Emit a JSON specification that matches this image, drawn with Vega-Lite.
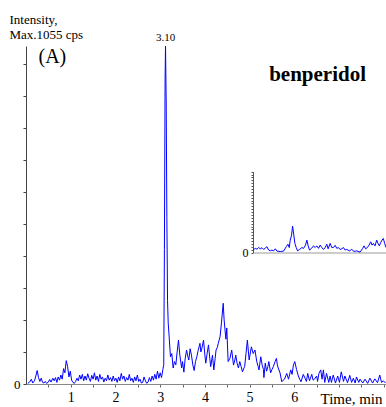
{
  "$schema": "https://vega.github.io/schema/vega-lite/v6.json",
  "width": 360,
  "height": 338,
  "autosize": {"type": "none"},
  "padding": {"left": 26, "top": 46, "right": 0, "bottom": 23},
  "background": "white",
  "config": {
    "view": {"stroke": null},
    "font": "Liberation Serif",
    "axis": {"labelFont": "Liberation Serif", "titleFont": "Liberation Serif"},
    "text": {"font": "Liberation Serif"}
  },
  "datasets": {
    "main": [
      {"t":0.04,"v":2},{"t":0.08,"v":6},{"t":0.12,"v":15},{"t":0.15,"v":3},{"t":0.19,"v":10},{"t":0.22,"v":25},{"t":0.25,"v":42},{"t":0.28,"v":20},{"t":0.31,"v":8},{"t":0.34,"v":18},{"t":0.37,"v":5},{"t":0.40,"v":3},{"t":0.43,"v":8},{"t":0.46,"v":2},{"t":0.50,"v":6},{"t":0.53,"v":14},{"t":0.56,"v":6},{"t":0.60,"v":18},{"t":0.63,"v":10},{"t":0.66,"v":20},{"t":0.69,"v":5},{"t":0.72,"v":22},{"t":0.75,"v":12},{"t":0.78,"v":28},{"t":0.81,"v":15},{"t":0.84,"v":48},{"t":0.87,"v":35},{"t":0.90,"v":73},{"t":0.93,"v":55},{"t":0.96,"v":22},{"t":0.99,"v":40},{"t":1.02,"v":12},{"t":1.05,"v":5},{"t":1.08,"v":2},{"t":1.11,"v":8},{"t":1.14,"v":18},{"t":1.17,"v":10},{"t":1.20,"v":28},{"t":1.23,"v":15},{"t":1.26,"v":30},{"t":1.29,"v":10},{"t":1.32,"v":25},{"t":1.35,"v":12},{"t":1.38,"v":32},{"t":1.41,"v":18},{"t":1.44,"v":8},{"t":1.47,"v":27},{"t":1.50,"v":15},{"t":1.53,"v":35},{"t":1.56,"v":12},{"t":1.59,"v":25},{"t":1.62,"v":8},{"t":1.65,"v":30},{"t":1.68,"v":15},{"t":1.71,"v":22},{"t":1.74,"v":6},{"t":1.77,"v":18},{"t":1.80,"v":10},{"t":1.83,"v":28},{"t":1.86,"v":12},{"t":1.89,"v":20},{"t":1.92,"v":8},{"t":1.95,"v":25},{"t":1.98,"v":10},{"t":2.01,"v":18},{"t":2.04,"v":5},{"t":2.07,"v":22},{"t":2.10,"v":10},{"t":2.13,"v":33},{"t":2.16,"v":15},{"t":2.19,"v":25},{"t":2.22,"v":8},{"t":2.25,"v":20},{"t":2.28,"v":12},{"t":2.31,"v":30},{"t":2.34,"v":10},{"t":2.37,"v":18},{"t":2.40,"v":5},{"t":2.43,"v":22},{"t":2.46,"v":10},{"t":2.49,"v":28},{"t":2.52,"v":8},{"t":2.55,"v":15},{"t":2.58,"v":3},{"t":2.61,"v":5},{"t":2.64,"v":22},{"t":2.67,"v":10},{"t":2.70,"v":2},{"t":2.73,"v":6},{"t":2.76,"v":20},{"t":2.79,"v":8},{"t":2.82,"v":25},{"t":2.85,"v":12},{"t":2.88,"v":30},{"t":2.91,"v":15},{"t":2.94,"v":40},{"t":2.97,"v":18},{"t":3.00,"v":35},{"t":3.03,"v":20},{"t":3.06,"v":45},{"t":3.08,"v":60},{"t":3.095,"v":420},{"t":3.11,"v":950},{"t":3.12,"v":1055},{"t":3.135,"v":880},{"t":3.15,"v":520},{"t":3.165,"v":260},{"t":3.18,"v":190},{"t":3.20,"v":150},{"t":3.23,"v":85},{"t":3.26,"v":95},{"t":3.29,"v":50},{"t":3.32,"v":70},{"t":3.35,"v":60},{"t":3.38,"v":100},{"t":3.41,"v":137},{"t":3.44,"v":90},{"t":3.48,"v":50},{"t":3.50,"v":70},{"t":3.53,"v":37},{"t":3.56,"v":80},{"t":3.59,"v":106},{"t":3.62,"v":85},{"t":3.64,"v":75},{"t":3.67,"v":110},{"t":3.70,"v":90},{"t":3.73,"v":60},{"t":3.76,"v":42},{"t":3.79,"v":70},{"t":3.82,"v":85},{"t":3.85,"v":105},{"t":3.89,"v":127},{"t":3.91,"v":100},{"t":3.93,"v":110},{"t":3.97,"v":137},{"t":4.00,"v":90},{"t":4.02,"v":65},{"t":4.05,"v":95},{"t":4.08,"v":122},{"t":4.11,"v":80},{"t":4.13,"v":54},{"t":4.17,"v":90},{"t":4.20,"v":44},{"t":4.23,"v":80},{"t":4.25,"v":106},{"t":4.28,"v":115},{"t":4.30,"v":127},{"t":4.34,"v":148},{"t":4.37,"v":190},{"t":4.41,"v":252},{"t":4.43,"v":200},{"t":4.45,"v":169},{"t":4.47,"v":140},{"t":4.49,"v":175},{"t":4.52,"v":70},{"t":4.56,"v":80},{"t":4.60,"v":106},{"t":4.64,"v":59},{"t":4.67,"v":75},{"t":4.69,"v":90},{"t":4.72,"v":65},{"t":4.75,"v":50},{"t":4.78,"v":70},{"t":4.81,"v":55},{"t":4.84,"v":38},{"t":4.89,"v":55},{"t":4.92,"v":95},{"t":4.95,"v":137},{"t":4.99,"v":75},{"t":5.02,"v":100},{"t":5.04,"v":116},{"t":5.08,"v":95},{"t":5.12,"v":106},{"t":5.16,"v":70},{"t":5.19,"v":55},{"t":5.21,"v":44},{"t":5.25,"v":85},{"t":5.28,"v":60},{"t":5.31,"v":45},{"t":5.32,"v":20},{"t":5.35,"v":65},{"t":5.38,"v":40},{"t":5.41,"v":55},{"t":5.43,"v":70},{"t":5.47,"v":35},{"t":5.50,"v":45},{"t":5.53,"v":54},{"t":5.57,"v":70},{"t":5.60,"v":80},{"t":5.62,"v":60},{"t":5.64,"v":50},{"t":5.68,"v":35},{"t":5.72,"v":7},{"t":5.75,"v":12},{"t":5.78,"v":15},{"t":5.83,"v":33},{"t":5.87,"v":15},{"t":5.92,"v":44},{"t":5.95,"v":30},{"t":5.98,"v":59},{"t":6.01,"v":70},{"t":6.05,"v":45},{"t":6.09,"v":25},{"t":6.12,"v":15},{"t":6.15,"v":7},{"t":6.20,"v":30},{"t":6.24,"v":18},{"t":6.27,"v":8},{"t":6.30,"v":33},{"t":6.34,"v":10},{"t":6.39,"v":30},{"t":6.42,"v":12},{"t":6.45,"v":15},{"t":6.50,"v":25},{"t":6.52,"v":8},{"t":6.55,"v":33},{"t":6.59,"v":44},{"t":6.62,"v":15},{"t":6.65,"v":44},{"t":6.68,"v":5},{"t":6.72,"v":33},{"t":6.77,"v":5},{"t":6.80,"v":25},{"t":6.83,"v":5},{"t":6.87,"v":28},{"t":6.92,"v":3},{"t":6.97,"v":25},{"t":7.01,"v":5},{"t":7.05,"v":38},{"t":7.10,"v":8},{"t":7.13,"v":25},{"t":7.19,"v":4},{"t":7.24,"v":27},{"t":7.28,"v":5},{"t":7.32,"v":18},{"t":7.36,"v":3},{"t":7.39,"v":22},{"t":7.44,"v":5},{"t":7.47,"v":15},{"t":7.53,"v":3},{"t":7.58,"v":15},{"t":7.64,"v":2},{"t":7.69,"v":18},{"t":7.75,"v":3},{"t":7.80,"v":16},{"t":7.86,"v":4},{"t":7.91,"v":28},{"t":7.95,"v":5},{"t":7.99,"v":10},{"t":8.04,"v":3}
    ],
    "inset": [
      {"ix":0,"iv":3},{"ix":1.75,"iv":5},{"ix":3,"iv":4},{"ix":4.25,"iv":6},{"ix":5.5,"iv":4.5},{"ix":6.75,"iv":5.8},{"ix":8,"iv":3.7},{"ix":9.25,"iv":5.4},{"ix":10.5,"iv":7},{"ix":11.75,"iv":3},{"ix":13,"iv":2},{"ix":14.25,"iv":3},{"ix":15.5,"iv":2},{"ix":16.75,"iv":4.5},{"ix":18,"iv":1.7},{"ix":20.5,"iv":1.2},{"ix":23,"iv":1.7},{"ix":25,"iv":7},{"ix":26.25,"iv":10},{"ix":27.25,"iv":6},{"ix":28,"iv":15},{"ix":29,"iv":21},{"ix":29.75,"iv":32},{"ix":30.5,"iv":23.5},{"ix":31.5,"iv":11},{"ix":32.5,"iv":6},{"ix":33.5,"iv":2},{"ix":35,"iv":3.7},{"ix":36.75,"iv":6},{"ix":38,"iv":5},{"ix":39.5,"iv":9},{"ix":40.5,"iv":15},{"ix":41.5,"iv":8},{"ix":42.5,"iv":3},{"ix":44,"iv":5},{"ix":45.5,"iv":8},{"ix":46.75,"iv":6},{"ix":48,"iv":8},{"ix":49.25,"iv":5},{"ix":50.5,"iv":9},{"ix":51.75,"iv":6},{"ix":53,"iv":3.7},{"ix":54.25,"iv":6},{"ix":55.5,"iv":10},{"ix":56.5,"iv":4.5},{"ix":58,"iv":11},{"ix":59.25,"iv":6},{"ix":60.5,"iv":6},{"ix":61.75,"iv":8.7},{"ix":63,"iv":5},{"ix":64.25,"iv":6},{"ix":65.5,"iv":3.7},{"ix":66.75,"iv":4.5},{"ix":68,"iv":6},{"ix":69.25,"iv":3},{"ix":70.5,"iv":3.7},{"ix":72.5,"iv":2},{"ix":74.25,"iv":3.7},{"ix":76,"iv":1.2},{"ix":78,"iv":2},{"ix":80.5,"iv":0.4},{"ix":82.5,"iv":5},{"ix":83.5,"iv":8},{"ix":84.75,"iv":4.5},{"ix":86,"iv":6},{"ix":87.25,"iv":9},{"ix":88.5,"iv":13},{"ix":89.5,"iv":9},{"ix":90.5,"iv":11},{"ix":91.75,"iv":8},{"ix":93,"iv":15},{"ix":94,"iv":11},{"ix":95,"iv":8},{"ix":96,"iv":12},{"ix":97,"iv":15},{"ix":98,"iv":17},{"ix":99,"iv":11},{"ix":100,"iv":6}
    ]
  },
  "layer": [
    {
      "data": {"name": "main"},
      "mark": {"type": "line", "color": "#0000ff", "strokeWidth": 1, "clip": true},
      "encoding": {
        "x": {
          "field": "t", "type": "quantitative",
          "scale": {"domain": [0, 8.05], "nice": false, "zero": false},
          "axis": {
            "values": [0.5,1,1.5,2,2.5,3,3.5,4,4.5,5,5.5,6,6.5,7,7.5,8],
            "labelExpr": "(datum.value % 1 == 0 && datum.value <= 6) ? '' + datum.value : ''",
            "labelOverlap": false,
            "labelFont": "Liberation Serif", "labelFontSize": 14, "labelColor": "black",
            "labelPadding": 3, "labelFlush": false,
            "tickSize": 3, "tickColor": "#666", "domainColor": "#888", "domainWidth": 1,
            "grid": false,
            "title": "Time, min", "titleFont": "Liberation Serif", "titleFontSize": 15,
            "titleFontWeight": "normal", "titleColor": "black",
            "titleAlign": "right", "titleBaseline": "middle", "titleX": 356, "titleY": 14.5
          }
        },
        "y": {
          "field": "v", "type": "quantitative",
          "scale": {"domain": [0, 1055], "nice": false},
          "axis": {
            "values": [0,100,200,300,400,500,600,700,800,900,1000],
            "labelExpr": "datum.value == 0 ? '0' : ''",
            "labelOverlap": false,
            "labelFont": "Liberation Serif", "labelFontSize": 13, "labelColor": "black",
            "labelPadding": 3, "labelFlush": false,
            "tickSize": 3, "tickColor": "#444", "domainColor": "#444", "domainWidth": 1,
            "grid": false,
            "title": ["Intensity,", "Max.1055 cps"], "titleFont": "Liberation Serif",
            "titleFontSize": 13, "titleFontWeight": "normal", "titleColor": "black",
            "titleAngle": 0, "titleAlign": "left", "titleBaseline": "top",
            "titleLineHeight": 15, "titleX": -17, "titleY": -33
          }
        }
      }
    },
    {
      "data": {"values": [{"t": 3.12, "v": 1055, "label": "3.10"}]},
      "mark": {"type": "text", "font": "Liberation Serif", "fontSize": 11, "dy": -8, "color": "black"},
      "encoding": {
        "x": {"field": "t", "type": "quantitative", "scale": {"domain": [0, 8.05], "nice": false, "zero": false}, "axis": null},
        "y": {"field": "v", "type": "quantitative", "scale": {"domain": [0, 1055], "nice": false}, "axis": null},
        "text": {"field": "label"}
      }
    },
    {
      "data": {"values": [{"t": 0.59, "v": 1020, "label": "(A)"}]},
      "mark": {"type": "text", "font": "Liberation Serif", "fontSize": 20, "color": "black"},
      "encoding": {
        "x": {"field": "t", "type": "quantitative", "scale": {"domain": [0, 8.05], "nice": false, "zero": false}, "axis": null},
        "y": {"field": "v", "type": "quantitative", "scale": {"domain": [0, 1055], "nice": false}, "axis": null},
        "text": {"field": "label"}
      }
    },
    {
      "data": {"values": [{"t": 6.52, "v": 965, "label": "benperidol"}]},
      "mark": {"type": "text", "font": "Liberation Serif", "fontSize": 21, "fontWeight": "bold", "color": "black"},
      "encoding": {
        "x": {"field": "t", "type": "quantitative", "scale": {"domain": [0, 8.05], "nice": false, "zero": false}, "axis": null},
        "y": {"field": "v", "type": "quantitative", "scale": {"domain": [0, 1055], "nice": false}, "axis": null},
        "text": {"field": "label"}
      }
    },
    {
      "data": {"name": "inset"},
      "mark": {"type": "line", "color": "#0000ff", "strokeWidth": 1},
      "encoding": {
        "x": {
          "field": "ix", "type": "quantitative",
          "scale": {"domain": [0, 100], "range": [227, 360], "nice": false, "zero": false},
          "axis": {"orient": "bottom", "offset": -131.5, "ticks": false, "labels": false, "domainColor": "#999", "grid": false, "title": null}
        },
        "y": {
          "field": "iv", "type": "quantitative",
          "scale": {"domain": [0, 98], "range": [206.5, 125.7], "nice": false},
          "axis": {
            "orient": "left", "offset": -227,
            "values": [0,3.5,7,10.5,14,17.5,21,24.5,28,31.5,35,38.5,42,45.5,49,52.5,56,59.5,63,66.5,70,73.5,77,80.5,84,87.5,91,94.5,98],
            "labelExpr": "datum.value == 0 ? '0' : ''",
            "labelOverlap": false,
            "labelFont": "Liberation Serif", "labelFontSize": 12, "labelColor": "black", "labelPadding": 3, "labelFlush": false,
            "tickSize": 2, "tickColor": "#555", "domainColor": "#555", "grid": false, "title": null
          }
        }
      }
    }
  ],
  "resolve": {
    "scale": {"x": "independent", "y": "independent"},
    "axis": {"x": "independent", "y": "independent"}
  }
}
